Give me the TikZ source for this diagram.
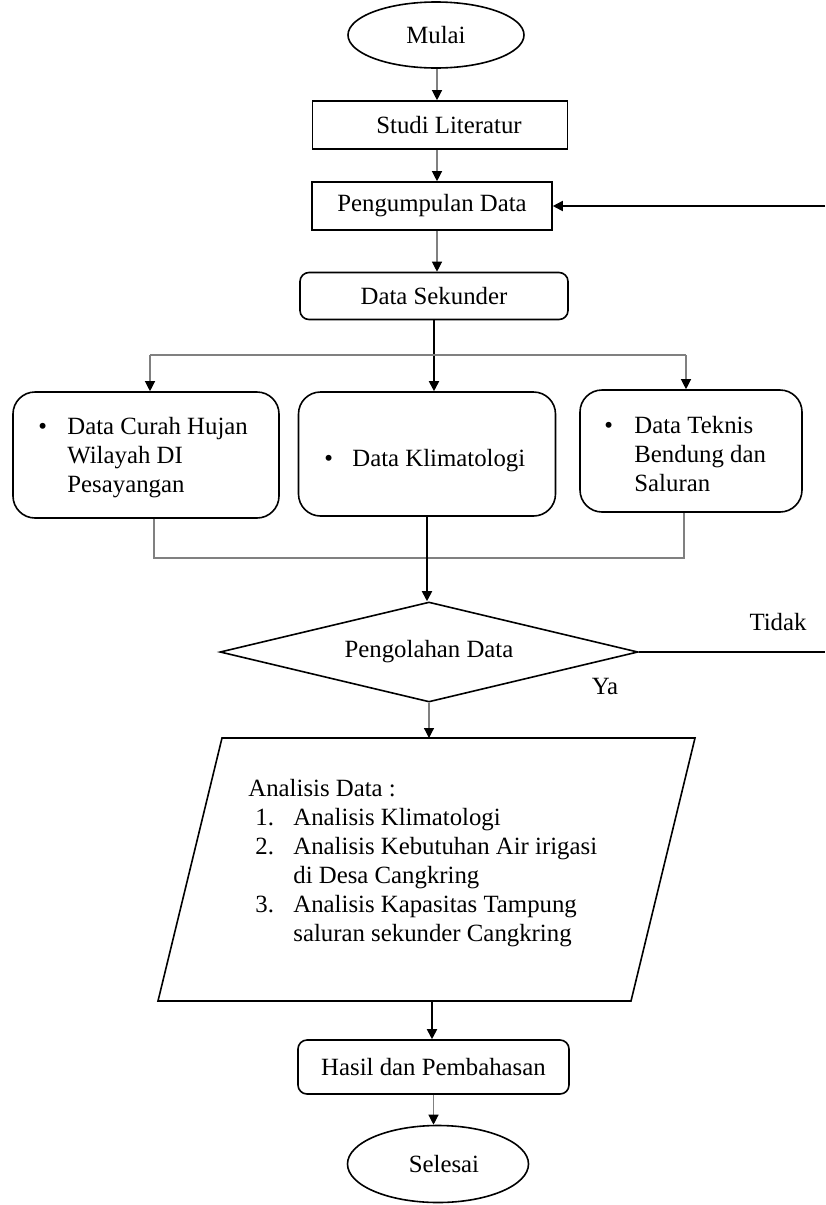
\documentclass[tikz,border=0pt]{standalone}
\usepackage{fontspec}
\setmainfont{Liberation Serif}
\usetikzlibrary{shapes.geometric,arrows.meta}
\begin{document}
\begin{tikzpicture}[x=0.5pt,y=-0.5pt,
  font=\fontsize{12.4pt}{14.5pt}\selectfont,
  box/.style={draw,line width=0.8pt,inner sep=0pt},
  term/.style={box,ellipse},
  smallround/.style={box,rounded corners=4.5pt},
  biground/.style={box,rounded corners=11pt},
  graylink/.style={draw=gray,line width=0.6pt,-{Triangle[width=5pt,length=5pt,color=black]}},
  blacklink/.style={draw=black,line width=0.9pt,-{Triangle[width=5pt,length=5pt]}},
  grayline/.style={draw=gray,line width=0.6pt},
  blackline/.style={draw=black,line width=0.9pt},
  txt/.style={inner sep=0pt}]
\useasboundingbox (0,0) rectangle (825,1205);

% nodes
\node[term,minimum width=88pt,minimum height=33pt] (mulai) at (436,35) {Mulai};
\node[box,minimum width=127.5pt,minimum height=24pt] (studi) at (440,125) {\hspace{9pt}Studi Literatur};
\node[box,minimum width=120pt,minimum height=24pt] (peng) at (432,206) {Pengumpulan Data};
\node[smallround,minimum width=134pt,minimum height=23.5pt] (sek) at (434,296) {Data Sekunder};

\node[biground,minimum width=133pt,minimum height=63pt] (left) at (146,455) {};
\node[biground,minimum width=128.5pt,minimum height=62pt] (mid) at (427,454) {};
\node[biground,minimum width=111pt,minimum height=61pt] (right) at (691,451) {};

\node[txt,anchor=north west,align=left] (lefttxt) at (38,414)
  {\begin{tabular}{@{}p{14.5pt}@{}l@{}}\textbullet & Data Curah Hujan\\ & Wilayah DI\\ & Pesayangan\end{tabular}};
\node[txt,anchor=north west,align=left] (midtxt) at (324,446)
  {\begin{tabular}{@{}p{14pt}@{}l@{}}\textbullet & Data Klimatologi\end{tabular}};
\node[txt,anchor=north west,align=left] (righttxt) at (604,413)
  {\begin{tabular}{@{}p{15pt}@{}l@{}}\textbullet & Data Teknis\\ & Bendung dan\\ & Saluran\end{tabular}};

\node[box,diamond,aspect=4.18,minimum width=209pt,minimum height=50pt] (dec) at (429,652) {Pengolahan Data};
\node[txt] (tidak) at (778,622) {Tidak};
\node[txt] (ya) at (605,686) {Ya};

\coordinate (pTL) at (222,738);
\coordinate (pTR) at (695,738);
\coordinate (pBR) at (631,1001);
\coordinate (pBL) at (158,1001);
\draw[line width=0.8pt] (pTL) -- (pTR) -- (pBR) -- (pBL) -- cycle;
\coordinate (ptop) at (429,738);
\coordinate (pbot) at (432,1001);
\node[txt,anchor=north west,align=left] (anatxt) at (248,776)
  {\begin{tabular}{@{}p{22.5pt}@{}l@{}}
   \multicolumn{2}{@{}l@{}}{Analisis Data :}\\
   \hspace*{3.5pt}1. & Analisis Klimatologi\\
   \hspace*{3.5pt}2. & Analisis Kebutuhan Air irigasi\\
    & di Desa Cangkring\\
   \hspace*{3.5pt}3. & Analisis Kapasitas Tampung\\
    & saluran sekunder Cangkring
   \end{tabular}};

\node[smallround,minimum width=135.5pt,minimum height=27pt] (hasil) at (433.5,1067) {Hasil dan Pembahasan};
\node[term,minimum width=90.5pt,minimum height=38.5pt] (selesai) at (438,1164) {\hspace{6pt}Selesai};

% connectors
\coordinate (colx) at (437,0);
\draw[graylink] (colx |- mulai.south) -- (colx |- studi.north);
\draw[graylink] (colx |- studi.south) -- (colx |- peng.north);
\draw[graylink] (colx |- peng.south) -- (colx |- sek.north);
\coordinate (fb) at (825,206);
\draw[blacklink] (fb) -- (peng.east);

\draw[blacklink] (sek.south) -- (sek.south |- mid.north);
\coordinate (bl) at (150,355);
\coordinate (br) at (686,355);
\draw[grayline] (bl) -- (br);
\draw[graylink] (bl) -- (bl |- left.north);
\draw[graylink] (br) -- (br |- right.north);

\coordinate (jl) at (154,558);
\coordinate (jr) at (684,558);
\draw[grayline] (jl |- left.south) -- (jl) -- (jr) -- (jr |- right.south);

\draw[blacklink] (mid.south) -- (mid.south |- dec.north);
\coordinate (tb) at (825,652);
\draw[blackline] (dec.east) -- (tb);
\draw[graylink] (dec.south) -- (ptop);
\draw[blacklink] (pbot) -- (pbot |- hasil.north);
\draw[graylink] (hasil.south) -- (hasil.south |- selesai.north);
\end{tikzpicture}
\end{document}
